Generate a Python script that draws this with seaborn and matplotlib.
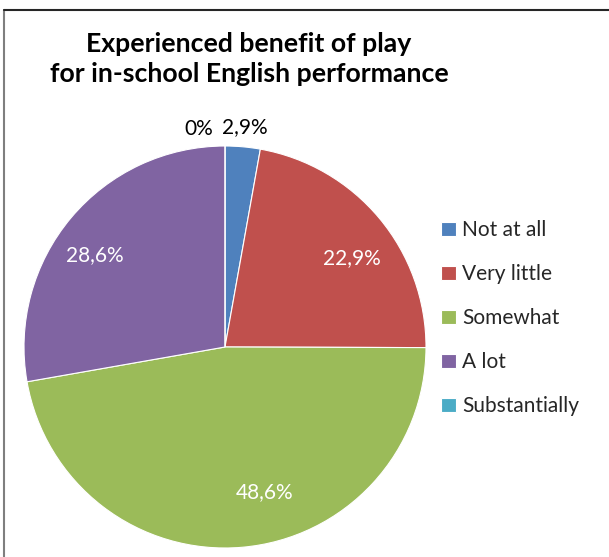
import numpy as np
import matplotlib
matplotlib.use("Agg")
import matplotlib.pyplot as plt
import seaborn as sns

categories = ["Not at all", "Very little", "Somewhat", "A lot", "Substantially"]
values = [2.9, 22.9, 48.6, 28.6, 0.0]
value_labels = ["2,9%", "22,9%", "48,6%", "28,6%", "0%"]
title_text = "Experienced benefit of play\nfor in-school English performance"

colors = ["#4F81BD", "#C0504D", "#9BBB59", "#8064A2", "#4BACC6"]

sns.set_theme(style="white")
plt.rcParams["font.family"] = ["Lato", "DejaVu Sans"]

W, H = 609, 557
fig = plt.figure(figsize=(W / 100, H / 100), dpi=100)
fig.patch.set_facecolor("white")

# frame lines (top and left visible)
fig.add_artist(plt.Line2D([4 / W, 4 / W], [0, 1 - 10 / H], color="#7f7f7f", lw=1.5))
fig.add_artist(plt.Line2D([4 / W, 1], [1 - 10 / H, 1 - 10 / H], color="#262626", lw=1.5))

cx, cy, r = 225, 347, 201
ax = fig.add_axes([(cx - r) / W, (H - cy - r) / H, 2 * r / W, 2 * r / H])
wedges, _ = ax.pie(values, colors=colors, startangle=90, counterclock=False,
                   wedgeprops=dict(edgecolor="white", linewidth=0.8))
ax.set_xlim(-1, 1)
ax.set_ylim(-1, 1)
ax.set_aspect("equal")
ax.axis("off")

# label placement: (radius fraction, angle in degrees, colour)
label_pos = [(1.10, 84.8, "black"), (0.77, 35.0, "white"), (0.75, -74.6, "white"),
             (0.79, 144.8, "white"), (1.09, 96.8, "black")]
for lab, (rr, ang, col) in zip(value_labels, label_pos):
    a = np.deg2rad(ang)
    ax.text(rr * np.cos(a), rr * np.sin(a), lab, ha="center", va="center",
            fontsize=15, color=col, clip_on=False)

fig.text(249 / W, 1 - 59 / H, title_text, ha="center", va="center",
         fontsize=19.2, fontweight="bold", color="black", linespacing=1.25)

leg = fig.legend(wedges, categories, loc="upper left",
                 bbox_to_anchor=(433 / W, 1 - 212 / H), frameon=False,
                 fontsize=15, handlelength=0.7, handleheight=0.7,
                 handletextpad=0.3, labelspacing=1.15, borderaxespad=0)

fig.savefig("out.png", dpi=100, facecolor="white")
